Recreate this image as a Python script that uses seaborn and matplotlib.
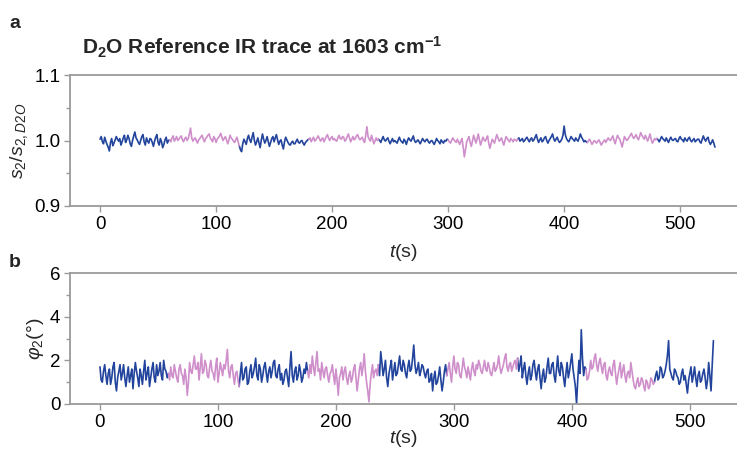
import numpy as np
import pandas as pd
import seaborn as sns
import matplotlib.pyplot as plt
from matplotlib.ticker import MultipleLocator, FormatStrFormatter

BLUE = "#22449c"
PINK = "#cf8fcb"
SPINE = "#9a9a9a"

# panel a: s2/s2,D2O ratio, one sample per second from 0 to 530 s
ratio_time = np.arange(0, 531)
ratio_values = [
    # 0-59 s
    1.002, 1.006, 0.998, 0.995, 1.005, 0.999, 0.994, 0.990, 0.984, 0.997,
    1.003, 0.992, 0.996, 1.001, 1.006, 1.002, 0.999, 1.003, 0.993, 0.998,
    1.004, 1.008, 0.997, 1.001, 1.008, 1.003, 0.995, 0.991, 1.000, 1.007,
    1.013, 1.004, 1.001, 0.997, 0.994, 1.000, 1.006, 1.009, 0.998, 0.993,
    1.004, 0.999, 0.996, 1.003, 1.002, 0.997, 0.991, 0.999, 1.005, 1.009,
    0.997, 0.993, 1.003, 0.998, 0.989, 0.994, 1.001, 1.005, 0.996, 1.000,
    # 60-119 s
    1.001, 0.998, 1.004, 1.007, 0.999, 1.002, 1.006, 1.000, 1.002, 1.005,
    1.007, 1.001, 0.998, 1.003, 1.005, 1.000, 1.003, 1.010, 1.019, 1.004,
    0.999, 1.002, 1.004, 1.000, 0.996, 1.001, 1.003, 1.006, 1.008, 1.002,
    0.998, 1.003, 1.005, 1.008, 1.010, 1.004, 1.001, 0.998, 1.006, 1.003,
    0.997, 1.002, 1.004, 1.007, 1.011, 1.005, 1.000, 1.003, 1.006, 1.001,
    0.995, 1.000, 1.008, 1.004, 1.002, 0.999, 0.997, 1.001, 1.005, 0.998,
    # 120-179 s
    0.992, 0.986, 0.983, 0.995, 1.002, 0.998, 0.994, 1.003, 1.008, 1.001,
    0.997, 1.005, 1.012, 1.000, 0.993, 0.998, 1.004, 0.996, 0.989, 1.001,
    1.010, 1.002, 0.996, 1.000, 1.006, 0.998, 0.991, 0.997, 1.003, 1.006,
    0.998, 1.004, 1.009, 1.001, 0.994, 0.999, 1.001, 0.993, 0.987, 0.998,
    1.005, 1.001, 0.997, 0.994, 0.993, 0.997, 0.999, 0.995, 0.995, 0.999,
    1.002, 0.997, 0.996, 0.999, 1.000, 0.996, 0.993, 0.997, 0.999, 1.001,
    # 180-239 s
    1.002, 1.004, 0.998, 1.002, 1.005, 0.999, 1.001, 1.004, 1.007, 1.003,
    0.999, 1.002, 1.004, 0.998, 1.002, 1.006, 1.009, 1.003, 1.000, 1.004,
    1.006, 1.001, 1.003, 1.000, 0.999, 1.004, 1.008, 1.003, 1.002, 1.006,
    1.005, 0.999, 1.001, 1.006, 1.010, 1.004, 0.998, 1.002, 1.006, 1.001,
    1.003, 1.007, 1.009, 1.004, 1.001, 1.003, 1.005, 1.000, 0.997, 1.008,
    1.021, 1.006, 1.002, 0.999, 1.008, 1.002, 0.995, 0.999, 1.004, 1.000,
    # 240-299 s
    1.002, 1.000, 0.997, 1.002, 1.006, 1.001, 0.999, 1.002, 1.004, 0.999,
    0.995, 0.999, 1.003, 0.998, 1.000, 0.998, 0.996, 1.001, 1.005, 1.000,
    0.998, 0.996, 1.002, 0.999, 0.994, 1.000, 1.004, 1.001, 0.999, 1.003,
    1.007, 1.000, 0.997, 0.999, 1.001, 0.998, 0.995, 0.999, 1.003, 1.000,
    0.998, 1.001, 1.002, 0.998, 0.996, 0.999, 1.000, 0.997, 0.994, 0.998,
    1.003, 1.000, 0.998, 0.995, 1.001, 0.998, 0.996, 1.000, 0.999, 1.002,
    # 300-359 s
    1.001, 0.998, 0.996, 1.000, 1.004, 1.001, 0.999, 0.997, 1.002, 0.998,
    0.994, 0.999, 1.003, 0.990, 0.975, 0.986, 0.998, 1.002, 1.006, 0.997,
    0.991, 0.999, 1.008, 1.002, 0.996, 1.003, 1.010, 1.001, 0.993, 0.999,
    1.005, 1.001, 0.999, 1.003, 1.007, 0.996, 0.988, 0.995, 1.002, 0.999,
    0.996, 1.003, 1.009, 1.004, 0.999, 1.001, 1.004, 0.998, 0.993, 1.000,
    1.006, 1.003, 1.000, 0.998, 1.003, 1.001, 0.998, 1.002, 1.001, 0.999,
    # 360-419 s
    1.002, 1.004, 0.999, 1.001, 1.003, 0.998, 1.000, 1.003, 1.005, 1.001,
    0.998, 1.002, 1.004, 0.999, 1.001, 1.005, 1.009, 1.002, 0.997, 1.001,
    1.004, 0.998, 1.000, 1.004, 1.006, 1.000, 0.996, 1.000, 1.003, 1.006,
    1.010, 1.003, 0.999, 1.002, 1.005, 1.000, 0.997, 0.999, 1.002, 1.008,
    1.022, 1.009, 1.003, 1.000, 0.998, 1.002, 1.006, 1.003, 1.001, 0.999,
    1.004, 1.001, 0.999, 1.004, 1.010, 1.005, 1.002, 0.998, 1.000, 0.998,
    # 420-479 s
    0.997, 1.000, 1.002, 0.998, 0.994, 0.997, 1.000, 0.998, 0.996, 0.999,
    1.001, 0.997, 0.993, 0.996, 0.999, 1.001, 0.997, 1.001, 1.004, 1.001,
    1.000, 1.004, 1.007, 1.000, 0.995, 1.002, 1.008, 1.004, 1.002, 0.996,
    0.990, 0.998, 1.006, 1.003, 1.000, 1.002, 1.005, 1.008, 1.011, 1.006,
    1.003, 1.006, 1.009, 1.004, 1.001, 1.006, 1.012, 1.008, 1.005, 1.002,
    1.008, 1.004, 0.999, 1.004, 1.010, 1.002, 0.996, 0.999, 1.003, 1.001,
    # 480-530 s
    1.003, 1.001, 0.998, 1.002, 1.006, 1.003, 1.001, 0.999, 1.004, 1.000,
    0.997, 1.002, 1.005, 1.001, 1.000, 1.002, 1.003, 0.999, 0.998, 1.003,
    1.006, 1.002, 1.001, 0.998, 1.004, 1.001, 0.999, 1.003, 1.005, 1.000,
    0.998, 1.001, 1.003, 0.998, 1.000, 1.002, 1.002, 0.998, 0.996, 1.002,
    1.007, 1.002, 0.999, 1.003, 1.005, 0.998, 0.994, 0.997, 1.001, 0.996,
    0.990,
]
ratio_segment_starts = [0, 60, 120, 180, 240, 300, 360, 420, 480]

# panel b: phase phi2 (deg), one sample per second from 0 to 520 s
phase_time = np.arange(0, 521)
phase_values = [
    # 0-57 s
    1.7, 1.1, 1.0, 1.5, 1.8, 1.3, 0.9, 1.4, 1.6, 0.9, 1.2, 1.7, 1.9, 1.0, 0.6,
    1.2, 1.5, 1.8, 1.1, 1.4, 1.8, 1.2, 0.8, 1.3, 1.7, 1.0, 1.3, 1.6, 0.7, 1.4,
    1.9, 1.5, 1.2, 0.8, 1.6, 1.3, 0.9, 1.5, 2.0, 1.1, 1.4, 1.7, 0.8, 1.2, 1.6,
    1.9, 1.2, 1.0, 1.8, 1.3, 1.5, 1.9, 1.3, 1.1, 2.0, 1.6, 1.5, 1.2,
    # 58-117 s
    1.4, 1.1, 1.7, 1.3, 1.2, 1.8, 1.5, 1.2, 1.0, 1.6, 1.8, 1.4, 1.3, 0.9, 1.6,
    1.2, 0.4, 1.0, 1.9, 1.5, 1.4, 1.8, 2.2, 1.6, 1.6, 1.9, 1.1, 1.7, 2.3, 1.4,
    1.5, 2.0, 1.8, 1.3, 1.2, 1.7, 2.0, 1.5, 1.4, 1.1, 1.7, 2.1, 1.0, 1.4, 1.9,
    1.6, 1.3, 1.8, 1.6, 2.0, 2.5, 1.5, 1.2, 1.7, 1.8, 1.3, 0.9, 1.4, 1.5, 1.1,
    # 118-175 s
    0.8, 1.4, 1.9, 1.1, 1.2, 1.6, 1.7, 0.9, 1.0, 1.5, 1.8, 1.2, 1.4, 1.7, 2.1,
    1.3, 1.1, 1.8, 1.6, 1.0, 1.3, 1.7, 1.9, 1.4, 1.0, 1.5, 1.7, 1.2, 1.5, 1.9,
    2.0, 1.3, 1.2, 1.6, 1.8, 1.1, 1.4, 0.9, 1.1, 1.5, 1.6, 1.2, 0.8, 1.7, 2.4,
    1.3, 1.0, 1.5, 1.7, 1.1, 1.3, 1.8, 1.5, 1.0, 1.2, 1.6, 1.4, 1.9,
    # 176-235 s
    1.5, 1.2, 1.8, 1.4, 2.2, 1.7, 1.3, 1.9, 2.4, 1.5, 1.6, 1.1, 1.9, 1.5, 1.2,
    1.6, 1.7, 1.3, 1.0, 1.4, 1.5, 1.8, 1.3, 0.9, 1.6, 1.1, 0.4, 1.2, 1.4, 1.7,
    1.1, 1.5, 1.7, 1.2, 0.9, 1.3, 1.5, 1.0, 1.2, 1.6, 1.8, 1.2, 0.6, 1.1, 1.6,
    1.9, 1.3, 1.7, 2.3, 1.5, 1.0, 0.6, 0.1, 0.9, 1.4, 1.8, 1.2, 1.5, 1.6, 1.3,
    # 236-293 s
    1.8, 1.3, 2.4, 1.9, 1.3, 1.6, 2.0, 1.2, 0.8, 1.4, 1.7, 2.0, 1.1, 1.5, 1.9,
    1.3, 1.4, 1.8, 2.2, 1.6, 1.5, 2.0, 1.8, 1.4, 1.2, 1.7, 2.0, 1.5, 1.6, 2.1,
    2.7, 1.8, 1.4, 1.6, 1.9, 1.3, 1.5, 1.8, 1.7, 1.4, 1.2, 1.5, 1.6, 1.0, 1.1,
    1.4, 0.6, 1.2, 1.5, 0.9, 1.0, 1.3, 1.7, 1.1, 0.6, 1.0, 1.5, 1.8,
    # 294-353 s
    1.3, 1.6, 1.9, 1.4, 1.0, 1.7, 2.2, 1.6, 1.4, 1.9, 1.8, 1.3, 1.2, 1.6, 2.1,
    1.7, 1.5, 1.2, 1.7, 1.4, 1.1, 1.6, 1.9, 1.5, 1.3, 1.8, 1.6, 2.0, 1.8, 1.5,
    1.4, 1.7, 2.0, 1.6, 1.5, 1.9, 1.7, 1.4, 1.3, 1.6, 1.9, 1.5, 1.6, 1.8, 2.2,
    1.7, 1.4, 1.6, 1.8, 2.1, 2.3, 1.7, 1.5, 1.8, 1.9, 1.5, 1.7, 1.9, 2.0, 1.6,
    # 354-411 s
    2.1, 1.5, 1.8, 2.2, 1.2, 1.6, 1.9, 1.3, 0.9, 1.4, 1.7, 1.1, 1.3, 1.8, 2.0,
    1.5, 1.1, 1.6, 1.8, 1.2, 0.7, 1.3, 1.6, 1.0, 1.2, 1.7, 2.1, 1.4, 1.4, 1.8,
    1.9, 1.3, 1.0, 1.6, 2.2, 1.5, 1.3, 1.9, 1.7, 1.2, 0.8, 1.4, 1.9, 1.2, 1.5,
    1.9, 2.3, 1.6, 1.2, 0.8, 0.0, 1.1, 2.0, 1.4, 3.4, 2.1, 1.3, 1.7,
    # 412-469 s
    1.6, 1.1, 1.2, 1.5, 2.0, 1.6, 1.7, 2.1, 2.3, 1.8, 1.5, 1.9, 2.1, 1.7, 1.4,
    1.8, 1.9, 1.3, 1.1, 1.5, 1.7, 1.4, 1.3, 1.8, 2.0, 1.4, 0.9, 1.3, 1.6, 1.9,
    1.2, 1.5, 1.8, 1.3, 1.0, 1.4, 1.5, 1.2, 1.9, 1.5, 1.1, 0.8, 0.7, 1.0, 1.2,
    0.8, 0.9, 1.2, 1.1, 0.8, 0.6, 1.1, 1.0, 0.7, 0.8, 1.2, 1.1, 0.9,
    # 470-520 s
    1.0, 1.3, 1.5, 1.1, 1.2, 1.7, 1.6, 1.2, 1.3, 1.5, 1.8, 2.2, 2.9, 1.6, 1.4,
    1.2, 1.1, 1.6, 1.5, 1.3, 1.2, 0.9, 1.0, 1.4, 1.6, 1.1, 1.3, 0.9, 0.5, 1.1,
    1.4, 1.7, 1.0, 1.3, 1.7, 1.2, 0.8, 1.3, 1.5, 1.0, 1.1, 1.4, 1.6, 1.2, 0.7,
    1.1, 1.9, 1.3, 0.6, 1.8, 2.9,
]
phase_segment_starts = [0, 58, 118, 176, 236, 294, 354, 412, 470]


def build_segments(time, values, starts):
    # each segment also takes the first point of the next one so the trace stays joined
    frames = []
    edges = list(starts) + [time[-1] + 1]
    for i in range(len(starts)):
        mask = (time >= edges[i]) & (time <= edges[i + 1])
        seg = pd.DataFrame({"t": time[mask], "y": np.asarray(values)[mask]})
        seg["segment"] = i
        seg["kind"] = "ref" if i % 2 == 0 else "sample"
        frames.append(seg)
    return pd.concat(frames, ignore_index=True)


def style_axis(ax):
    for side in ["left", "top", "bottom"]:
        ax.spines[side].set_color(SPINE)
        ax.spines[side].set_linewidth(1.3)
    ax.spines["right"].set_visible(False)
    ax.tick_params(which="both", direction="out", color=SPINE, width=1.0,
                   labelsize=13.5, labelcolor="black", pad=3)
    ax.tick_params(which="major", length=4)
    ax.tick_params(which="minor", length=3)
    ax.xaxis.set_major_locator(MultipleLocator(100))


def main():
    sns.set_style("ticks")
    plt.rcParams["font.family"] = ["Liberation Sans", "DejaVu Sans"]
    plt.rcParams["mathtext.fontset"] = "custom"
    plt.rcParams["mathtext.rm"] = "Liberation Sans"
    plt.rcParams["mathtext.it"] = "Liberation Sans:italic"
    plt.rcParams["mathtext.bf"] = "Liberation Sans:bold"

    fig = plt.figure(figsize=(7.37, 4.5), dpi=100)
    ax_a = fig.add_axes([70 / 737, 1 - 206 / 450, 667 / 737, 131 / 450])
    ax_b = fig.add_axes([70 / 737, 1 - 404 / 450, 667 / 737, 131 / 450])

    palette = {"ref": BLUE, "sample": PINK}

    df_a = build_segments(ratio_time, ratio_values, ratio_segment_starts)
    sns.lineplot(data=df_a, x="t", y="y", hue="kind", units="segment",
                 estimator=None, palette=palette, linewidth=1.2,
                 legend=False, ax=ax_a)
    df_b = build_segments(phase_time, phase_values, phase_segment_starts)
    sns.lineplot(data=df_b, x="t", y="y", hue="kind", units="segment",
                 estimator=None, palette=palette, linewidth=1.2,
                 legend=False, ax=ax_b)

    ax_a.set_xlim(-25.9, 549)
    ax_a.set_ylim(0.9, 1.1)
    ax_a.yaxis.set_major_locator(MultipleLocator(0.1))
    ax_a.yaxis.set_minor_locator(MultipleLocator(0.05))
    ax_a.yaxis.set_major_formatter(FormatStrFormatter("%.1f"))
    style_axis(ax_a)
    ax_a.set_xlabel(r"$t$(s)", fontsize=14, labelpad=7)
    ax_a.set_ylabel(r"$s_2/s_{2,D2O}$", fontsize=14, labelpad=3)

    ax_b.set_xlim(-25.4, 540)
    ax_b.set_ylim(0, 6)
    ax_b.yaxis.set_major_locator(MultipleLocator(2))
    ax_b.yaxis.set_minor_locator(MultipleLocator(1))
    style_axis(ax_b)
    ax_b.set_xlabel(r"$t$(s)", fontsize=14, labelpad=-2)
    ax_b.set_ylabel(r"$\varphi_2$(°)", fontsize=14, labelpad=3)

    fig.text(82 / 737, 1 - 55 / 450,
             r"D$_\mathbf{2}$O Reference IR trace at 1603 cm$^\mathbf{-1}$",
             fontsize=15, fontweight="bold", ha="left", va="baseline")
    fig.text(9 / 737, 1 - 28 / 450, "a", fontsize=14, fontweight="bold",
             va="baseline")
    fig.text(9 / 737, 1 - 267 / 450, "b", fontsize=14, fontweight="bold",
             va="baseline")

    fig.savefig("out.png", dpi=100)
    plt.close(fig)


if __name__ == "__main__":
    main()
